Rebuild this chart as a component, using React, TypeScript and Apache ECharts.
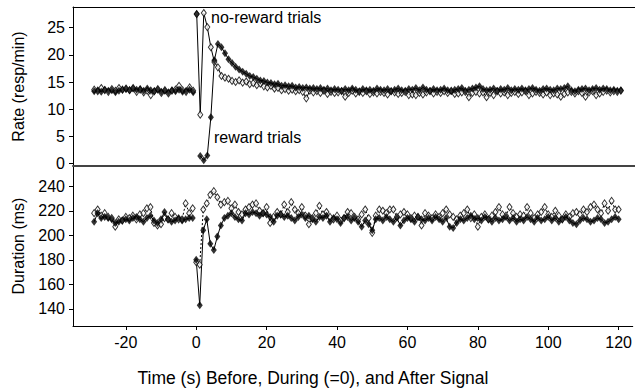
import React, { useEffect, useRef } from "react";
import * as echarts from "echarts";

// time axis (s): -29 .. 120, one bin per second
const tStart = -29;
const tEnd = 120;
const times: number[] = Array.from({ length: tEnd - tStart + 1 }, (_, i) => tStart + i);

const xTicks = [-20, 0, 20, 40, 60, 80, 100, 120];
const rateTicks = [0, 5, 10, 15, 20, 25];
const durTicks = [140, 160, 180, 200, 220, 240];

// Rate (resp/min) — reward trials (filled diamonds)
const rateReward = [
  13.3, 13.5, 13.2, 13.6, 13.4, 13.5, 13.1, 13.4, 13.6, 13.7, 13.5, 13.8, 13.6, 13.7, 13.4, 13.8, 13.5, 13.3, 13.6, 13.2,
  13.4, 13.1, 13.5, 13.3, 13.6, 13.2, 13.4, 13.6, 13.1,
  27.5,
  1.4, 0.6, 1.5, 8.5, 19.0, 22.0, 21.4, 20.3, 19.2,
  18.5, 17.8, 17.3, 16.9, 16.5, 16.1, 15.9, 15.6, 15.3, 15.2,
  14.9, 14.8, 14.6, 14.7, 14.3, 14.4, 14.2, 14.3, 14.0, 14.1,
  13.9, 14.0, 13.8, 13.9, 13.7, 13.9, 13.6, 13.8, 13.5, 13.7,
  13.6, 13.4, 13.7, 13.5, 13.8, 13.6, 13.3, 13.7, 13.5, 13.6,
  13.4, 13.8, 13.6, 13.5, 13.7, 13.3, 13.6, 13.8, 13.5, 13.4,
  13.7, 13.6, 13.9, 13.5, 14.0, 13.6, 13.4, 13.7, 13.5, 13.6,
  13.8, 13.5, 13.3, 13.6, 13.7, 13.9, 13.4, 13.6, 13.8, 14.0,
  14.2, 13.7, 13.5, 13.6, 13.8, 13.4, 13.7, 13.6, 13.9, 13.5,
  13.7, 13.6, 13.8, 13.5, 13.7, 13.9, 13.6, 13.4, 13.7, 13.8,
  13.6, 13.5, 13.8, 13.7, 13.9, 14.2, 13.5, 13.3, 13.6, 13.7,
  13.8, 13.5, 13.7, 13.9, 13.6, 13.8, 13.7, 13.5, 13.6, 13.4,
  13.5,
];

// Rate (resp/min) — no-reward trials (open diamonds)
const rateNoReward = [
  13.6, 13.3, 13.9, 13.5, 13.2, 13.7, 13.4, 13.9, 13.6, 13.8, 13.5, 13.9, 13.2, 13.6, 13.1, 13.4, 12.6, 13.3, 13.7, 13.0,
  13.5, 12.9, 13.4, 13.6, 14.3, 13.5, 13.2, 14.0, 13.4,
  27.5,
  9.0, 27.7, 25.1, 21.4, 18.7, 17.7, 16.1, 15.8, 15.6,
  15.2, 15.0, 15.3, 14.9, 15.1, 14.6, 14.8, 14.4, 14.7, 14.2,
  14.0, 14.3, 13.8, 13.9, 13.5, 13.7, 13.4, 13.6, 13.3, 13.5,
  13.2, 12.0, 13.4, 13.1, 13.3, 13.0, 13.4, 12.8, 13.2, 13.0,
  13.1, 13.3, 12.3, 13.0, 13.4, 12.9, 13.2, 13.0, 13.3, 12.8,
  13.1, 12.9, 13.2, 13.0, 12.7, 13.3, 13.1, 12.8, 13.0, 13.2,
  12.6, 12.7, 12.6, 13.0, 12.7, 13.1, 13.3, 12.9, 13.2, 13.0,
  13.3, 13.0, 13.4, 12.8, 12.9, 13.1, 13.2, 12.2, 13.0, 13.2,
  12.9, 13.1, 12.2, 13.0, 12.6, 13.3, 12.9, 13.1, 12.6, 13.0,
  13.2, 12.8, 13.1, 13.3, 12.6, 12.9, 13.2, 13.0, 12.7, 13.1,
  12.6, 12.9, 12.7, 12.3, 12.8, 13.1, 13.2, 12.9, 13.3, 13.0,
  12.3, 13.1, 13.3, 12.6, 12.9, 13.2, 13.4, 13.1, 13.3, 13.2,
  13.4,
];

// Duration (ms) — reward trials (filled diamonds)
const durReward = [
  211, 218, 214, 215, 214, 213, 210, 211, 212, 213, 212, 214, 215, 213, 211, 214, 216, 212, 210, 213,
  219, 213, 211, 212, 214, 212, 213, 214, 214,
  180, 143, 204, 213, 193, 188, 199, 208, 214, 216,
  218, 215, 213, 212, 218, 217, 219, 218, 216, 218,
  217, 215, 211, 216, 217, 215, 216, 214, 212, 215,
  217, 214, 216, 213, 211, 215, 214, 216, 211, 214,
  213, 210, 214, 215, 212, 214, 211, 207, 212, 209,
  204, 213, 214, 212, 215, 213, 211, 214, 208, 212,
  214, 213, 211, 215, 213, 212, 214, 212, 215, 213,
  211, 214, 207, 206, 210, 213, 212, 214, 216, 213,
  214, 212, 215, 213, 211, 214, 212, 213, 215, 212,
  214, 211, 213, 212, 215, 213, 211, 214, 212, 213,
  215, 212, 214, 211, 213, 215, 212, 210, 209, 212,
  214, 213, 211, 212, 214, 213, 210, 211, 213, 215,
  213,
];

// Duration (ms) — no-reward trials (open diamonds)
const durNoReward = [
  218, 221, 216, 218, 215, 214, 207, 213, 212, 215, 214, 216, 213, 217, 218, 222, 223, 210, 208, 209,
  214, 213, 218, 215, 213, 213, 226, 218, 222,
  178, 176, 221, 226, 233, 236, 231, 225, 227, 228,
  222, 225, 219, 217, 221, 223, 225, 226, 220, 218,
  223, 210, 215, 219, 217, 225, 219, 227, 221, 218,
  223, 216, 209, 214, 218, 224, 217, 219, 215, 213,
  216, 212, 214, 219, 218, 215, 213, 217, 221, 214,
  202, 216, 221, 220, 218, 221, 221, 215, 217, 219,
  217, 214, 216, 215, 208, 218, 216, 214, 217, 215,
  218, 221, 217, 215, 213, 216, 218, 221, 214, 217,
  207, 215, 217, 213, 216, 219, 223, 217, 216, 223,
  218, 215, 217, 216, 223, 218, 214, 217, 219, 223,
  217, 215, 220, 216, 213, 217, 215, 218, 219, 217,
  221, 219, 223, 225, 221, 218, 226, 220, 228, 221,
  221,
];

const FONT = "'Liberation Sans', Arial, sans-serif";

function points(vals: number[]) {
  return times.map((t, i) => [t, vals[i]]);
}

// line data with gaps inserted before the given times
function lineData(vals: number[], breaksBefore: number[]) {
  const out: (number | null)[][] = [];
  times.forEach((t, i) => {
    if (breaksBefore.includes(t)) out.push([t - 0.5, null]);
    out.push([t, vals[i]]);
  });
  return out;
}

export default function App() {
  const ref = useRef<HTMLDivElement>(null);
  useEffect(() => {
    if (!ref.current) return;
    const chart = echarts.init(ref.current, undefined, { renderer: "svg" });
    const labelStyle = { color: "#000", fontSize: 16, fontFamily: FONT };
    const tickStyle = { color: "#000", width: 1 };
    const filledItem = { color: "#000" };
    const openItem = { color: "#fff", borderColor: "#000", borderWidth: 1 };
    const option: any = {
      animation: false,
      textStyle: { fontFamily: FONT },
      grid: [
        { left: 73, right: 0, top: 7, height: 159 },
        { left: 73, right: 0, top: 166, height: 160 },
      ],
      xAxis: [
        {
          gridIndex: 0, type: "value", min: -35, max: 124, position: "bottom",
          axisLine: { show: true, onZero: false, lineStyle: { color: "#444", width: 2 } },
          axisTick: { show: false }, axisLabel: { show: false }, splitLine: { show: false },
        },
        {
          gridIndex: 0, type: "value", min: -35, max: 124, position: "top",
          axisLine: { show: true, onZero: false, lineStyle: { color: "#000", width: 1 } },
          axisTick: { show: false }, axisLabel: { show: false }, splitLine: { show: false },
        },
        {
          gridIndex: 1, type: "value", min: -35, max: 124, position: "bottom",
          axisLine: { show: true, onZero: false, lineStyle: { color: "#000", width: 1 } },
          axisTick: { show: true, customValues: xTicks, length: 4, lineStyle: tickStyle },
          axisLabel: { show: true, customValues: xTicks, margin: 8, ...labelStyle },
          splitLine: { show: false },
        },
      ],
      yAxis: [
        {
          gridIndex: 0, type: "value", min: -0.45, max: 28.8,
          name: "Rate (resp/min)", nameLocation: "middle", nameGap: 47,
          nameTextStyle: { ...labelStyle },
          axisLine: { show: true, onZero: false, lineStyle: { color: "#000", width: 1 } },
          axisTick: { show: true, customValues: rateTicks, length: 4, lineStyle: tickStyle },
          axisLabel: { show: true, customValues: rateTicks, margin: 8, ...labelStyle },
          splitLine: { show: false },
        },
        {
          gridIndex: 1, type: "value", min: 126, max: 256.5,
          name: "Duration (ms)", nameLocation: "middle", nameGap: 47,
          nameTextStyle: { ...labelStyle },
          axisLine: { show: true, onZero: false, lineStyle: { color: "#000", width: 1 } },
          axisTick: { show: true, customValues: durTicks, length: 4, lineStyle: tickStyle },
          axisLabel: { show: true, customValues: durTicks, margin: 8, ...labelStyle },
          splitLine: { show: false },
        },
      ],
      series: [
        {
          type: "line", xAxisIndex: 0, yAxisIndex: 0, z: 1, symbol: "none",
          data: lineData(rateNoReward, [0]),
          lineStyle: { color: "#000", width: 1 },
        },
        {
          type: "line", xAxisIndex: 0, yAxisIndex: 0, z: 1, symbol: "none",
          data: lineData(rateReward, [0, 1]),
          lineStyle: { color: "#000", width: 1 },
        },
        {
          type: "scatter", xAxisIndex: 0, yAxisIndex: 0, z: 2, symbol: "diamond",
          symbolSize: [5, 7], data: points(rateNoReward), itemStyle: openItem,
        },
        {
          type: "scatter", xAxisIndex: 0, yAxisIndex: 0, z: 3, symbol: "diamond",
          symbolSize: [6, 8], data: points(rateReward), itemStyle: filledItem,
        },
        {
          type: "line", xAxisIndex: 2, yAxisIndex: 1, z: 1, symbol: "none",
          data: lineData(durNoReward, [0]),
          lineStyle: { color: "#000", width: 1, type: [2, 2] },
        },
        {
          type: "line", xAxisIndex: 2, yAxisIndex: 1, z: 1, symbol: "none",
          data: lineData(durReward, [0]),
          lineStyle: { color: "#000", width: 1 },
        },
        {
          type: "scatter", xAxisIndex: 2, yAxisIndex: 1, z: 2, symbol: "diamond",
          symbolSize: [5, 7], data: points(durNoReward), itemStyle: openItem,
        },
        {
          type: "scatter", xAxisIndex: 2, yAxisIndex: 1, z: 3, symbol: "diamond",
          symbolSize: [6, 8], data: points(durReward), itemStyle: filledItem,
        },
      ],
      graphic: [
        {
          type: "text", left: 211, top: 9, z: 10,
          style: { text: "no-reward trials", fill: "#000", fontSize: 16, fontFamily: FONT },
        },
        {
          type: "text", left: 214, top: 129, z: 10,
          style: { text: "reward trials", fill: "#000", fontSize: 16, fontFamily: FONT },
        },
        {
          type: "text", x: 313, y: 378, z: 10,
          style: {
            text: "Time (s) Before, During (=0), and After Signal", fill: "#000",
            fontSize: 17.5, fontFamily: FONT, align: "center", verticalAlign: "middle",
          },
        },
      ],
    };
    chart.setOption(option);
    return () => chart.dispose();
  }, []);
  return (
    <div
      ref={ref}
      style={{ position: "fixed", left: 0, top: 0, width: 635, height: 392, background: "#fff" }}
    />
  );
}
